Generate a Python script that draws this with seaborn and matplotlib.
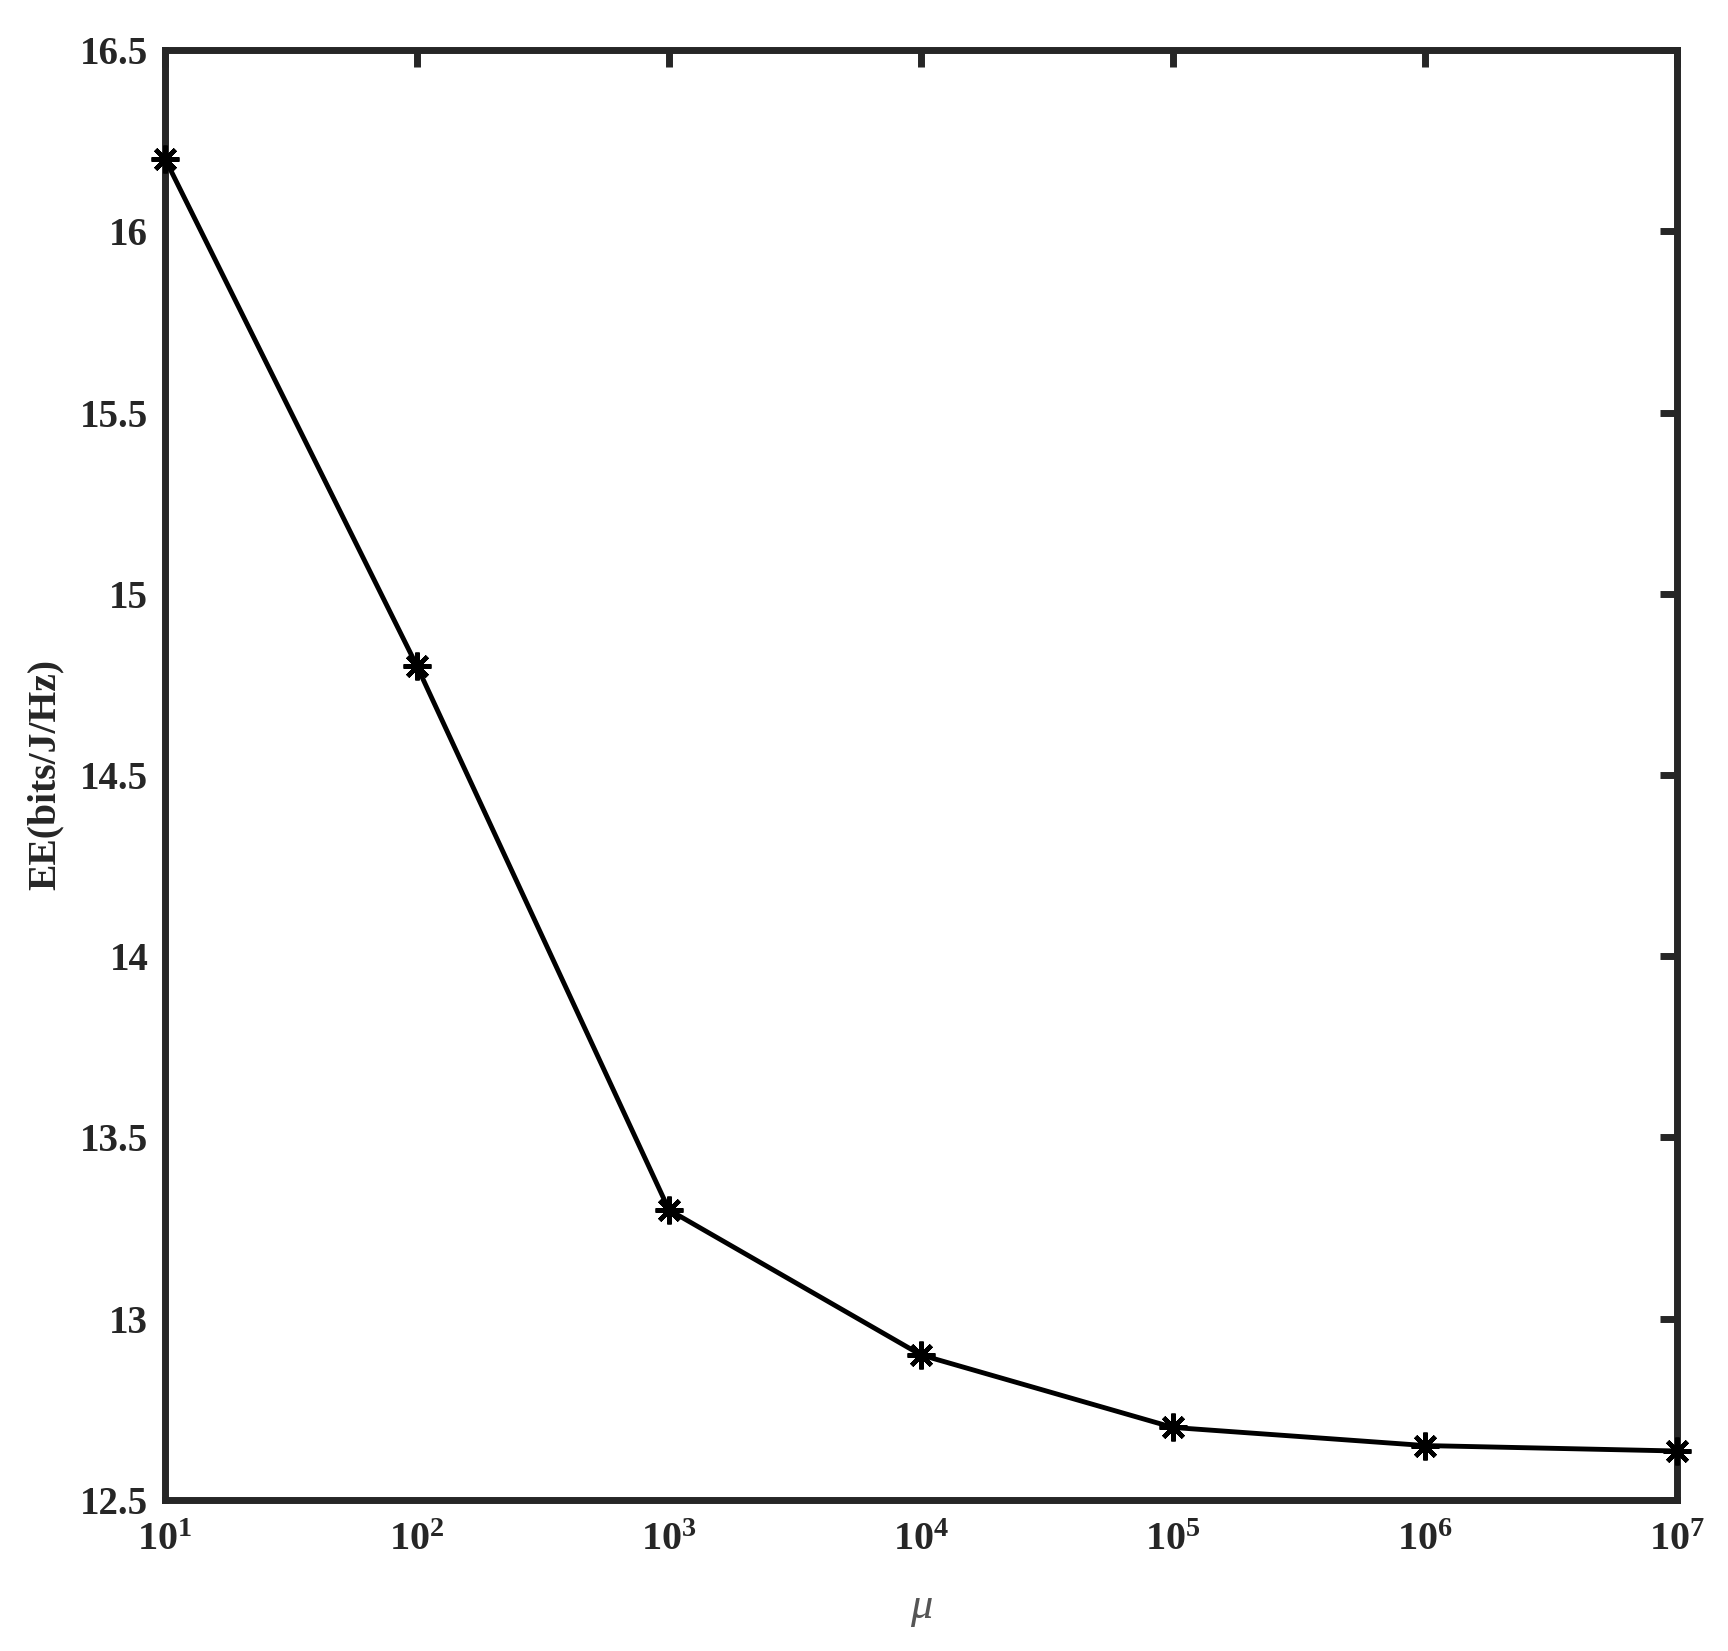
"""
EE versus mu on a log x axis, MATLAB-style framed axes.
"""

import matplotlib

matplotlib.use("Agg")
import matplotlib.pyplot as plt
import pandas as pd
import seaborn as sns

# data
mu_values = [1e1, 1e2, 1e3, 1e4, 1e5, 1e6, 1e7]
ee_values = [16.2, 14.8, 13.3, 12.9, 12.7, 12.65, 12.635]
y_ticks = [12.5, 13, 13.5, 14, 14.5, 15, 15.5, 16, 16.5]
y_tick_labels = ["12.5", "13", "13.5", "14", "14.5", "15", "15.5", "16", "16.5"]
x_exponents = [1, 2, 3, 4, 5, 6, 7]

AX_COLOR = "#262626"

sns.set_theme(style="white")
plt.rcParams["font.family"] = ["Liberation Serif", "DejaVu Serif"]
plt.rcParams["font.weight"] = "bold"
plt.rcParams["mathtext.fontset"] = "custom"
plt.rcParams["mathtext.rm"] = "Liberation Serif:bold"
plt.rcParams["mathtext.bf"] = "Liberation Serif:bold"
plt.rcParams["mathtext.it"] = "Liberation Serif:italic"

df = pd.DataFrame({"mu": mu_values, "ee": ee_values})

fig = plt.figure(figsize=(17.28, 16.51), dpi=100)
ax = fig.add_axes([0.0955, 0.0915, 0.875, 0.8782])

sns.lineplot(
    data=df,
    x="mu",
    y="ee",
    ax=ax,
    color="black",
    linewidth=3.5,
    marker=(8, 2, 0),
    markersize=20,
    markeredgewidth=3.2,
    markeredgecolor="black",
    estimator=None,
    clip_on=False,
    zorder=5,
)

ax.set_xscale("log")
ax.set_xlim(1e1, 1e7)
ax.set_ylim(12.5, 16.5)

ax.set_xticks([10.0 ** e for e in x_exponents])
ax.set_xticklabels([f"$10^{{{e}}}$" for e in x_exponents])
ax.minorticks_off()
ax.set_yticks(y_ticks)
ax.set_yticklabels(y_tick_labels)

for side in ["top", "bottom", "left", "right"]:
    ax.spines[side].set_visible(True)
    ax.spines[side].set_color(AX_COLOR)
    ax.spines[side].set_linewidth(5)

ax.tick_params(
    axis="both",
    which="major",
    direction="in",
    length=12,
    width=5,
    color=AX_COLOR,
    top=True,
    right=True,
    labelcolor=AX_COLOR,
)
ax.tick_params(axis="y", labelsize=28, pad=12)
ax.tick_params(axis="x", labelsize=29, pad=16)

ax.set_xlabel("μ", fontsize=32, fontweight="normal", fontstyle="italic",
              color="#555555", labelpad=20)
ax.set_ylabel("EE(bits/J/Hz)", fontsize=28.5, fontweight="bold",
              color=AX_COLOR, labelpad=12)

fig.savefig("out.png", dpi=100)
plt.close(fig)
